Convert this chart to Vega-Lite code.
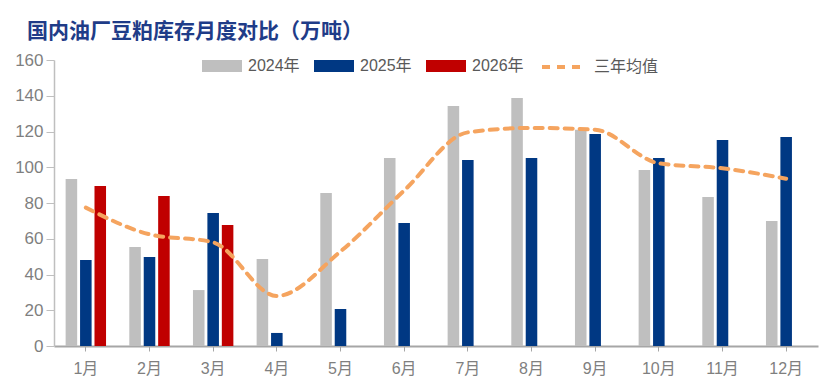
{
  "$schema": "https://vega.github.io/schema/vega-lite/v6.json",
  "width": 764,
  "height": 286,
  "autosize": "none",
  "padding": {"left": 54, "top": 60, "right": 12, "bottom": 46},
  "background": "white",
  "title": {
    "text": "国内油厂豆粕库存月度对比（万吨）",
    "anchor": "start",
    "frame": "group",
    "dx": -27,
    "offset": 1,
    "font": "Noto Sans CJK SC",
    "fontSize": 21,
    "fontWeight": "bold",
    "color": "#1f3c88"
  },
  "config": {
    "view": {"stroke": null},
    "axis": {"grid": false},
    "font": "Liberation Sans"
  },
  "datasets": {
    "bars": [
      {"month": "1月", "year": "2024年", "value": 93.4},
      {"month": "1月", "year": "2025年", "value": 48.1},
      {"month": "1月", "year": "2026年", "value": 89.5},
      {"month": "2月", "year": "2024年", "value": 55.4},
      {"month": "2月", "year": "2025年", "value": 49.8},
      {"month": "2月", "year": "2026年", "value": 83.9},
      {"month": "3月", "year": "2024年", "value": 31.3},
      {"month": "3月", "year": "2025年", "value": 74.4},
      {"month": "3月", "year": "2026年", "value": 67.7},
      {"month": "4月", "year": "2024年", "value": 48.7},
      {"month": "4月", "year": "2025年", "value": 7.3},
      {"month": "5月", "year": "2024年", "value": 85.6},
      {"month": "5月", "year": "2025年", "value": 20.7},
      {"month": "6月", "year": "2024年", "value": 105.2},
      {"month": "6月", "year": "2025年", "value": 68.8},
      {"month": "7月", "year": "2024年", "value": 134.3},
      {"month": "7月", "year": "2025年", "value": 104.1},
      {"month": "8月", "year": "2024年", "value": 138.7},
      {"month": "8月", "year": "2025年", "value": 105.2},
      {"month": "9月", "year": "2024年", "value": 121.0},
      {"month": "9月", "year": "2025年", "value": 118.6},
      {"month": "10月", "year": "2024年", "value": 98.5},
      {"month": "10月", "year": "2025年", "value": 105.2},
      {"month": "11月", "year": "2024年", "value": 83.4},
      {"month": "11月", "year": "2025年", "value": 115.2},
      {"month": "12月", "year": "2024年", "value": 69.9},
      {"month": "12月", "year": "2025年", "value": 116.9}
    ],
    "avg": [
      {"month": "1月", "series": "三年均值", "value": 77.4},
      {"month": "2月", "series": "三年均值", "value": 62.5},
      {"month": "3月", "series": "三年均值", "value": 58.0},
      {"month": "4月", "series": "三年均值", "value": 28.0},
      {"month": "5月", "series": "三年均值", "value": 52.9},
      {"month": "6月", "series": "三年均值", "value": 87.0},
      {"month": "7月", "series": "三年均值", "value": 119.5},
      {"month": "8月", "series": "三年均值", "value": 122.0},
      {"month": "9月", "series": "三年均值", "value": 121.0},
      {"month": "10月", "series": "三年均值", "value": 102.2},
      {"month": "11月", "series": "三年均值", "value": 99.4},
      {"month": "12月", "series": "三年均值", "value": 93.6}
    ]
  },
  "layer": [
    {
      "data": {"name": "bars"},
      "mark": {"type": "bar"},
      "encoding": {
        "x": {
          "field": "month",
          "type": "nominal",
          "sort": ["1月","2月","3月","4月","5月","6月","7月","8月","9月","10月","11月","12月"],
          "scale": {"paddingInner": 0.32, "paddingOuter": 0.16},
          "axis": {
            "title": null,
            "labelAngle": 0,
            "domainColor": "#A6A6A6",
            "domainWidth": 2,
            "tickColor": "#A6A6A6",
            "tickSize": 5,
            "labelFont": "Liberation Sans, Noto Sans CJK SC",
            "labelFontSize": 16,
            "labelColor": "#7f7f7f",
            "labelPadding": 9
          }
        },
        "xOffset": {
          "field": "year",
          "type": "nominal",
          "scale": {"domain": ["2024年", "2025年", "2026年"], "paddingInner": 0.2, "paddingOuter": 0.1}
        },
        "y": {
          "field": "value",
          "type": "quantitative",
          "scale": {"domain": [0, 160]},
          "axis": {
            "title": null,
            "values": [0, 20, 40, 60, 80, 100, 120, 140, 160],
            "labelOverlap": false,
            "domainColor": "#BFBFBF",
            "domainWidth": 1.5,
            "tickColor": "#BFBFBF",
            "tickSize": 8,
            "labelFontSize": 17,
            "labelColor": "#7f7f7f",
            "labelPadding": 3
          }
        },
        "color": {
          "field": "year",
          "type": "nominal",
          "scale": {"domain": ["2024年", "2025年", "2026年"], "range": ["#BFBFBF", "#003883", "#C00000"]},
          "legend": {
            "title": null,
            "orient": "none",
            "legendX": 148,
            "legendY": -14,
            "direction": "horizontal",
            "symbolType": "M-1,-0.3H1V0.3H-1Z",
            "symbolSize": 1600,
            "symbolStrokeWidth": 0,
            "labelFont": "Liberation Sans, Noto Sans CJK SC",
            "labelFontSize": 16,
            "labelColor": "#595959",
            "labelOffset": 6,
            "columnPadding": 14
          }
        }
      }
    },
    {
      "data": {"name": "avg"},
      "mark": {"type": "line", "strokeDash": [8, 7], "strokeWidth": 4, "strokeCap": "round", "interpolate": "monotone"},
      "encoding": {
        "x": {"field": "month", "type": "nominal", "sort": ["1月","2月","3月","4月","5月","6月","7月","8月","9月","10月","11月","12月"]},
        "y": {
          "field": "value",
          "type": "quantitative",
          "axis": {
            "title": null,
            "values": [0, 20, 40, 60, 80, 100, 120, 140, 160],
            "labelOverlap": false,
            "domainColor": "#BFBFBF",
            "domainWidth": 1.5,
            "tickColor": "#BFBFBF",
            "tickSize": 8,
            "labelFontSize": 17,
            "labelColor": "#7f7f7f",
            "labelPadding": 3
          }
        },
        "color": {
          "field": "series",
          "type": "nominal",
          "scale": {"range": ["#F5A45F"]},
          "legend": {
            "title": null,
            "orient": "none",
            "legendX": 486,
            "legendY": -17,
            "direction": "horizontal",
            "symbolType": "stroke",
            "symbolSize": 1936,
            "symbolStrokeWidth": 4,
            "symbolDash": [8, 7],
            "labelFont": "Noto Sans CJK SC",
            "labelFontSize": 16,
            "labelColor": "#595959",
            "labelOffset": 6
          }
        }
      }
    }
  ],
  "resolve": {"scale": {"color": "independent"}}
}
